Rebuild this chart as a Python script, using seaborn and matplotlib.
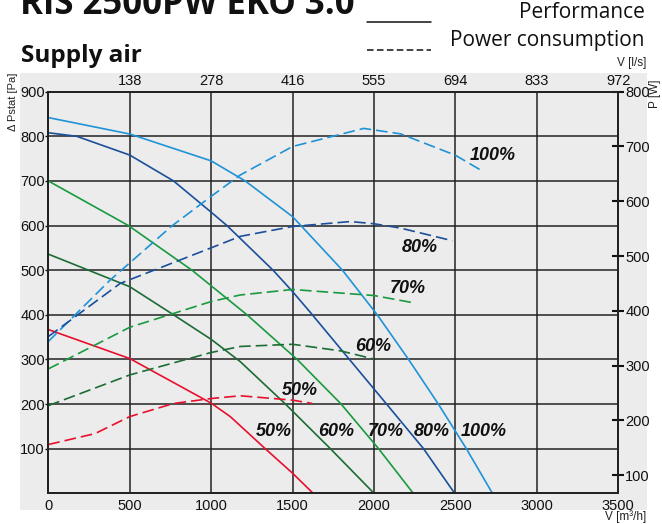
import matplotlib
matplotlib.use("Agg")
import matplotlib.pyplot as plt
import seaborn as sns
import pandas as pd
from matplotlib.patches import Rectangle
from matplotlib.lines import Line2D

# ---- fan speed settings -------------------------------------------------
speeds = ["100%", "80%", "70%", "60%", "50%"]
colors = ["#1f93d8", "#1b4f9c", "#1a9a40", "#1d6b35", "#e8102e"]

# ---- performance curves: airflow [m3/h] -> static pressure [Pa] ---------
q_perf_100 = [0, 502, 1000, 1209, 1500, 1806, 2020, 2212, 2395, 2567, 2727]
p_perf_100 = [842, 805, 745, 700, 620, 500, 400, 300, 200, 100, 0]
q_perf_80 = [0, 175, 500, 769, 1000, 1097, 1380, 1500, 1610, 1849, 2077, 2304, 2495]
p_perf_80 = [808, 800, 758, 700, 630, 600, 500, 452, 405, 300, 200, 100, 0]
q_perf_70 = [0, 492, 882, 1220, 1528, 1798, 2028, 2241]
p_perf_70 = [700, 600, 500, 400, 300, 200, 100, 0]
q_perf_60 = [0, 500, 769, 1000, 1179, 1456, 1732, 2000]
p_perf_60 = [536, 463, 400, 345, 295, 200, 100, 0]
q_perf_50 = [0, 500, 1000, 1117, 1332, 1500, 1626]
p_perf_50 = [367, 302, 202, 172, 100, 45, 0]

# ---- power consumption: airflow [m3/h] -> power [W] ---------------------
q_pow_100 = [0, 379, 759, 1000, 1179, 1500, 1937, 2164, 2500, 2672]
w_pow_100 = [344, 456, 555, 609, 648, 700, 733, 723, 684, 654]
q_pow_80 = [0, 441, 1000, 1179, 1500, 1855, 2000, 2164, 2481]
w_pow_80 = [353, 450, 515, 536, 554, 563, 559, 551, 528]
q_pow_70 = [0, 500, 1000, 1179, 1500, 2000, 2255]
w_pow_70 = [294, 370, 417, 429, 439, 428, 414]
q_pow_60 = [0, 500, 1000, 1179, 1500, 1794, 2000]
w_pow_60 = [227, 283, 324, 335, 339, 327, 312]
q_pow_50 = [0, 287, 500, 770, 1000, 1179, 1500, 1620]
w_pow_50 = [156, 176, 207, 231, 240, 245, 237, 231]

# ---- axes ticks ---------------------------------------------------------
flow_ticks = [0, 500, 1000, 1500, 2000, 2500, 3000, 3500]
flow_ls_labels = ["138", "278", "416", "555", "694", "833", "972"]
pa_ticks = [100, 200, 300, 400, 500, 600, 700, 800, 900]
w_ticks = [100, 200, 300, 400, 500, 600, 700, 800]

# ---- curve labels: (text, flow, pressure) -------------------------------
power_labels = [("100%", 2726, 758), ("80%", 2280, 551), ("70%", 2210, 459),
                ("60%", 1995, 330), ("50%", 1542, 230)]
perf_labels = [("50%", 1384, 138), ("60%", 1768, 138), ("70%", 2075, 138),
               ("80%", 2354, 138), ("100%", 2675, 138)]

perf = {"100%": (q_perf_100, p_perf_100), "80%": (q_perf_80, p_perf_80),
        "70%": (q_perf_70, p_perf_70), "60%": (q_perf_60, p_perf_60),
        "50%": (q_perf_50, p_perf_50)}
power = {"100%": (q_pow_100, w_pow_100), "80%": (q_pow_80, w_pow_80),
         "70%": (q_pow_70, w_pow_70), "60%": (q_pow_60, w_pow_60),
         "50%": (q_pow_50, w_pow_50)}

df_perf = pd.concat([pd.DataFrame({"flow": q, "value": v, "speed": s})
                     for s, (q, v) in perf.items()], ignore_index=True)
df_pow = pd.concat([pd.DataFrame({"flow": q, "value": v, "speed": s})
                    for s, (q, v) in power.items()], ignore_index=True)
palette = dict(zip(speeds, colors))

sns.set_theme(style="white")
plt.rcParams["font.family"] = ["Liberation Sans", "DejaVu Sans"]

W, H = 662, 524
BG = "#ebeceb"
INK = "#222222"

fig = plt.figure(figsize=(W / 100, H / 100), dpi=100)
fig.patch.set_facecolor("white")
fig.patches.append(Rectangle((20 / W, 14 / H), 627 / W, 437 / H,
                             transform=fig.transFigure, facecolor=BG,
                             edgecolor="none", zorder=-10))

ax = fig.add_axes([48.3 / W, 30.7 / H, 570 / W, 401.6 / H])
ax.set_facecolor(BG)

sns.lineplot(data=df_perf, x="flow", y="value", hue="speed", palette=palette,
             sort=False, estimator=None, legend=False, lw=1.2, ax=ax)

ax.set_xlim(0, 3500)
ax.set_ylim(0, 900)
ax.set_xticks(flow_ticks)
ax.set_xticklabels([str(t) for t in flow_ticks])
ax.set_yticks(pa_ticks)
ax.set_yticklabels([str(t) for t in pa_ticks])
ax.set_xlabel("")
ax.set_ylabel("")
ax.grid(True, color=INK, lw=1.1)
ax.set_axisbelow(True)
ax.tick_params(axis="x", length=0, pad=4, labelsize=10.5, colors="#111111")
ax.tick_params(axis="y", length=2, width=1, pad=0.5, labelsize=10.5,
               colors="#111111")
for sp in ax.spines.values():
    sp.set_color(INK)
    sp.set_linewidth(1.3)

# top axis in l/s
top = ax.secondary_xaxis("top")
top.set_xticks(flow_ticks[1:])
top.set_xticklabels(flow_ls_labels)
top.tick_params(length=0, pad=3, labelsize=10.5, colors="#111111")
top.spines["top"].set_visible(False)

# power axis
ax2 = ax.twinx()
sns.lineplot(data=df_pow, x="flow", y="value", hue="speed", palette=palette,
             sort=False, estimator=None, legend=False, lw=1.2, ax=ax2)
for ln in ax2.lines:
    ln.set_dashes((7, 3))
ax2.set_ylim(67, 800)
ax2.set_yticks(w_ticks)
ax2.set_yticklabels([str(t) for t in w_ticks])
ax2.set_ylabel("")
ax2.tick_params(axis="y", direction="inout", length=8, width=1.5, pad=1,
                labelsize=10.5, colors="#111111")
for sp in ax2.spines.values():
    sp.set_color(INK)
    sp.set_linewidth(1.3)

lab_kw = dict(fontsize=13, fontweight="bold", fontstyle="italic",
              ha="center", va="center", color="#111111")
for txt, xq, yp in power_labels + perf_labels:
    ax.text(xq, yp, txt, **lab_kw)


def ftext(x, y, s, **kw):
    fig.text(x / W, 1 - y / H, s, **kw)


ftext(20, 14, "RIS 2500PW EKO 3.0", fontsize=25, fontweight="bold",
      family=["Open Sans", "DejaVu Sans"], va="baseline", color="#111111")
ftext(20.7, 61.7, "Supply air", fontsize=17.5, fontweight="bold",
      family=["Open Sans", "DejaVu Sans"], va="baseline", color="#111111")

fig.add_artist(Line2D([367 / W, 431 / W], [1 - 21.7 / H] * 2,
                      color="#111111", lw=1.1, transform=fig.transFigure))
fig.add_artist(Line2D([367 / W, 431 / W], [1 - 50 / H] * 2, color="#111111",
                      lw=1.1, dashes=(4.3, 2.2), transform=fig.transFigure))
ftext(645, 18.3, "Performance", fontsize=15, ha="right", va="baseline",
      family=["Open Sans", "DejaVu Sans"], color="#111111")
ftext(645, 46, "Power consumption", fontsize=15, ha="right", va="baseline",
      family=["Open Sans", "DejaVu Sans"], color="#111111")

ftext(646, 63, "V [l/s]", fontsize=8.5, ha="right", va="center",
      color="#222222")
ftext(655, 94, "P [W]", fontsize=8.5, ha="center", va="center", rotation=90,
      color="#222222")
ftext(13, 102, "Δ Pstat [Pa]", fontsize=8, ha="center", va="center",
      rotation=90, color="#222222")
ftext(646, 517, "V [m³/h]", fontsize=8.5, ha="right", va="center",
      color="#222222")

fig.savefig("out.png", dpi=100, facecolor="white")
